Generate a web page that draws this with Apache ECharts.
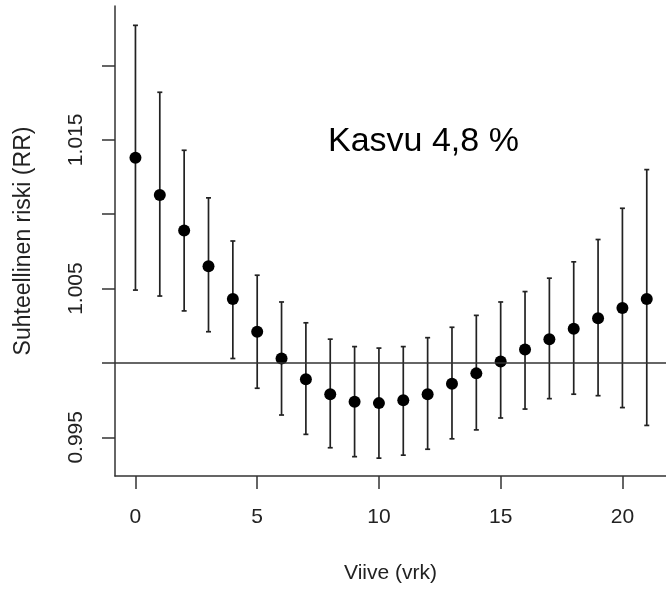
<!DOCTYPE html>
<html>
<head>
<meta charset="utf-8">
<script src="https://cdn.jsdelivr.net/npm/echarts@6/dist/echarts.min.js"></script>
<style>
html,body{margin:0;padding:0;background:#fff;}
#chart{width:666px;height:589px;}
</style>
</head>
<body>
<div id="chart"></div>
<script>
// Data
const lags = [0,1,2,3,4,5,6,7,8,9,10,11,12,13,14,15,16,17,18,19,20,21];
const rr = [1.0138,1.0113,1.0089,1.0065,1.0043,1.0021,1.0003,0.9989,0.9979,0.9974,0.9973,0.9975,0.9979,0.9986,0.9993,1.0001,1.0009,1.0016,1.0023,1.0030,1.0037,1.0043];
const lower = [1.0049,1.0045,1.0035,1.0021,1.0003,0.9983,0.9965,0.9952,0.9943,0.9937,0.9936,0.9938,0.9942,0.9949,0.9955,0.9963,0.9969,0.9976,0.9979,0.9978,0.9970,0.9958];
const upper = [1.0227,1.0182,1.0143,1.0111,1.0082,1.0059,1.0041,1.0027,1.0016,1.0011,1.0010,1.0011,1.0017,1.0024,1.0032,1.0041,1.0048,1.0057,1.0068,1.0083,1.0104,1.0130];
const xTicks = [0,5,10,15,20];
const yTicks = [0.995,1.000,1.005,1.010,1.015,1.020];
const yLabels = [0.995,1.005,1.015];
const refLine = 1.0;
const annotation = 'Kasvu 4,8 %';
const xTitle = 'Viive (vrk)';
const yTitle = 'Suhteellinen riski (RR)';

const FONT = 'Liberation Sans, Arial, sans-serif';
const AX = '#333';

const chart = echarts.init(document.getElementById('chart'), null, {renderer:'canvas'});
chart.setOption({
  animation:false,
  backgroundColor:'#fff',
  title:{
    text: annotation, left: 328, top: 125, padding:0,
    textStyle:{fontSize:34, fontWeight:'normal', color:'#000', fontFamily:FONT}
  },
  grid:{left:115, right:0, top:6, bottom:109, containLabel:false},
  xAxis:{
    type:'value', min:-0.84, max:21.79,
    name:xTitle, nameLocation:'middle', nameGap:87,
    nameTextStyle:{fontSize:21, color:'#222', fontFamily:FONT},
    axisLine:{show:true, onZero:false, lineStyle:{color:AX, width:1.5}},
    axisTick:{show:true, length:13, customValues:xTicks, lineStyle:{color:AX, width:1.5}},
    axisLabel:{customValues:xTicks, margin:31, fontSize:21, color:'#222', fontFamily:FONT},
    splitLine:{show:false}
  },
  yAxis:{
    type:'value', min:0.9924, max:1.024,
    name:yTitle, nameLocation:'middle', nameGap:80, nameRotate:90,
    nameTextStyle:{fontSize:23, color:'#222', fontFamily:FONT},
    axisLine:{show:true, onZero:false, lineStyle:{color:AX, width:1.5}},
    axisTick:{show:true, length:13, customValues:yTicks, lineStyle:{color:AX, width:1.5}},
    axisLabel:{customValues:yLabels, rotate:90, margin:28, fontSize:21, color:'#222', fontFamily:FONT,
      formatter:v=>Number(v).toFixed(3)},
    splitLine:{show:false}
  },
  series:[
    {
      type:'custom',
      data: lags.map((l,i)=>[l, lower[i], upper[i]]),
      renderItem:(params, api)=>{
        const x = api.value(0);
        const lo = api.coord([x, api.value(1)]);
        const hi = api.coord([x, api.value(2)]);
        const w = 2.5;
        const style = {stroke:'#222', lineWidth:1.7};
        return {type:'group', children:[
          {type:'line', shape:{x1:lo[0], y1:lo[1], x2:hi[0], y2:hi[1]}, style},
          {type:'line', shape:{x1:lo[0]-w, y1:lo[1], x2:lo[0]+w, y2:lo[1]}, style},
          {type:'line', shape:{x1:hi[0]-w, y1:hi[1], x2:hi[0]+w, y2:hi[1]}, style}
        ]};
      },
      z:2
    },
    {
      type:'scatter',
      data: lags.map((l,i)=>[l, rr[i]]),
      symbol:'circle', symbolSize:12,
      itemStyle:{color:'#000', opacity:1},
      z:3,
      markLine:{
        silent:true, symbol:['none','none'],
        label:{show:false},
        lineStyle:{color:'#333', width:1.5, type:'solid'},
        data:[{yAxis:refLine}]
      }
    }
  ]
});
</script>
</body>
</html>
